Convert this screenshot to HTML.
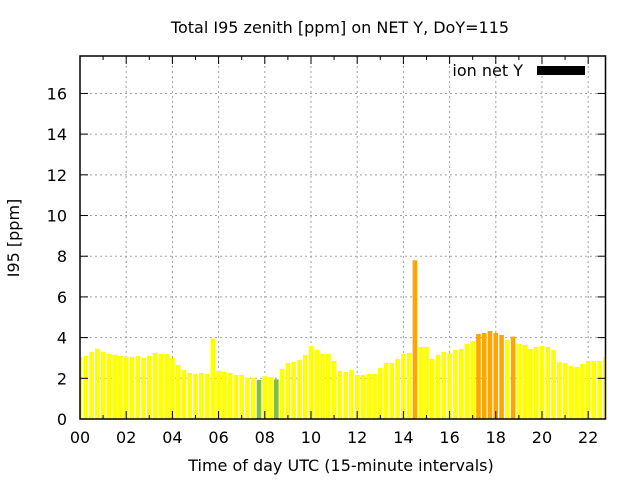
<!DOCTYPE html>
<html><head><meta charset="utf-8"><style>
body{margin:0;background:#fff}
svg{display:block;font-family:"DejaVu Sans","Liberation Sans",sans-serif}
</style></head><body>
<svg id="chart" width="640" height="480">
<text x="340" y="33" font-size="16" text-anchor="middle">Total I95 zenith [ppm] on NET Y, DoY=115</text>
<g id="grid"></g>
<g id="bars"></g>
<g id="axes"></g>
<text x="341" y="471" font-size="16" text-anchor="middle">Time of day UTC (15-minute intervals)</text>
<text transform="translate(19,238) rotate(-90)" font-size="16" text-anchor="middle">I95 [ppm]</text>
<g>
<text x="523" y="76" font-size="16" text-anchor="end">ion net Y</text>
<rect x="537" y="66" width="48" height="9" fill="#000"></rect>
</g>
</svg>
<script>
const values=[3.05,3.1,3.3,3.45,3.3,3.2,3.15,3.1,3.05,3.05,3.1,3.0,3.1,3.25,3.2,3.2,3.0,2.65,2.4,2.26,2.21,2.26,2.21,3.95,2.36,2.31,2.26,2.16,2.16,2.03,2.03,1.92,2.11,2.06,1.95,2.46,2.75,2.8,2.9,3.15,3.59,3.39,3.2,3.2,2.85,2.36,2.31,2.41,2.16,2.16,2.21,2.21,2.51,2.75,2.75,2.95,3.2,3.25,7.8,3.54,3.54,2.95,3.15,3.3,3.25,3.39,3.44,3.69,3.83,4.18,4.23,4.33,4.23,4.13,3.88,4.05,3.69,3.64,3.44,3.54,3.59,3.54,3.39,2.8,2.75,2.6,2.56,2.7,2.85,2.85,2.85,3.05];
const xTicks=["00","02","04","06","08","10","12","14","16","18","20","22"];
const yTicks=[0,2,4,6,8,10,12,14,16];
const L=80,R=605.5,T=56,B=419,xMax=22.75,yMax=17.84;
const NS="http://www.w3.org/2000/svg";
const xs=h=>L+h/xMax*(R-L);
const ys=v=>B-v/yMax*(B-T);
function mk(tag,at,parent){const e=document.createElementNS(NS,tag);for(const k in at)e.setAttribute(k,at[k]);parent.appendChild(e);return e;}
const grid=document.getElementById('grid'),bars=document.getElementById('bars'),axes=document.getElementById('axes');
const clip=mk('clipPath',{id:'pc'},document.getElementById('chart'));
mk('rect',{x:L,y:T,width:R-L,height:B-T},clip);
bars.setAttribute('clip-path','url(#pc)');
const bw=0.2/xMax*(R-L);
values.forEach((v,i)=>{
  const c=v>4.0?'#ffa500':(v<2.0?'#80c040':'#ffff00');
  const r=mk('rect',{x:xs(i*0.25)-bw/2,y:ys(v),width:bw,height:B-ys(v),fill:c},bars);
  
  
});
xTicks.forEach((t,i)=>{
  const x=xs(i*2);
  if(i>0){const g=mk('line',{x1:x,x2:x,y1:T,y2:B,stroke:'#a0a0a0','stroke-dasharray':'2,3','stroke-width':1},grid);
  }
  mk('line',{x1:x,x2:x,y1:B,y2:B-8,stroke:'#000'},axes);
  mk('line',{x1:x,x2:x,y1:T,y2:T+8,stroke:'#000'},axes);
  const tx=mk('text',{x:x,y:443,'font-size':16,'text-anchor':'middle'},axes);
  tx.textContent=t;
  
  
});
for(let h=1;h<xMax;h+=2){const x=xs(h);
  mk('line',{x1:x,x2:x,y1:B,y2:B-4,stroke:'#000'},axes);
  mk('line',{x1:x,x2:x,y1:T,y2:T+4,stroke:'#000'},axes);}
yTicks.forEach(v=>{
  const y=ys(v);
  if(v>0){const g=mk('line',{x1:L,x2:R,y1:y,y2:y,stroke:'#a0a0a0','stroke-dasharray':'2,3','stroke-width':1},grid);
  }
  mk('line',{x1:L,x2:L+8,y1:y,y2:y,stroke:'#000'},axes);
  mk('line',{x1:R,x2:R-8,y1:y,y2:y,stroke:'#000'},axes);
  const tx=mk('text',{x:67,y:y+6,'font-size':16,'text-anchor':'end'},axes);
  tx.textContent=v;
  
  
});
const fr=mk('rect',{x:L,y:T,width:R-L,height:B-T,fill:'none',stroke:'#000','stroke-width':1.5},axes);


</script>
</body></html>
